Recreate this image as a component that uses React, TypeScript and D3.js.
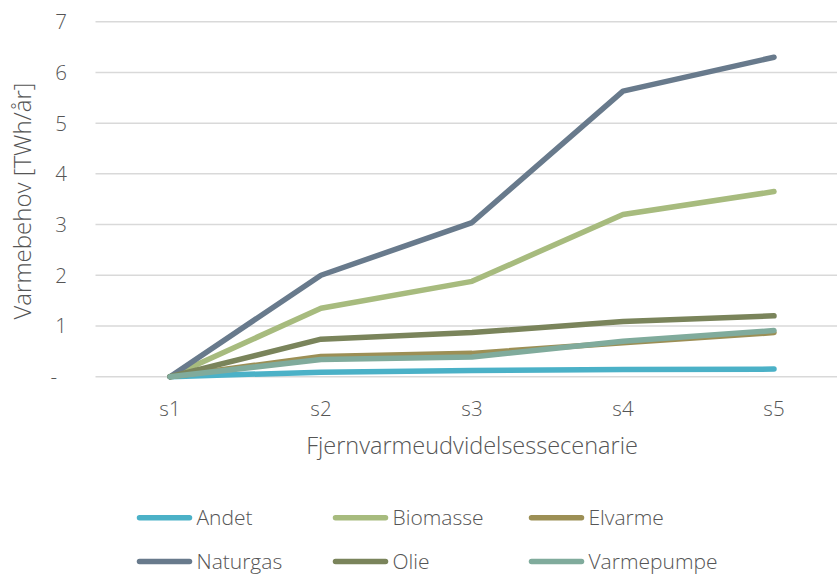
import React from "react";
import * as d3 from "d3";

const categories = ["s1", "s2", "s3", "s4", "s5"];
const seriesNames = ["Andet", "Biomasse", "Elvarme", "Naturgas", "Olie", "Varmepumpe"];
const andet = [0, 0.09, 0.12, 0.14, 0.15];
const biomasse = [0, 1.35, 1.88, 3.2, 3.65];
const elvarme = [0, 0.4, 0.46, 0.67, 0.87];
const naturgas = [0, 2.0, 3.04, 5.63, 6.3];
const olie = [0, 0.74, 0.87, 1.09, 1.2];
const varmepumpe = [0, 0.34, 0.39, 0.7, 0.91];
const yTicks = [0, 1, 2, 3, 4, 5, 6, 7];
const colors = ["#4bb1c7", "#a7bb7e", "#9c8f55", "#687a8c", "#7a845b", "#80ab9c"];

const W = 837;
const H = 574;
const FONT = "'Open Sans', Lato, sans-serif";
const TXT = "#555555";
const WEIGHT = 300;

export default function App() {
  const values = [andet, biomasse, elvarme, naturgas, olie, varmepumpe];
  const x = d3.scalePoint<string>().domain(categories).range([170, 774]);
  const y = d3.scaleLinear().domain([0, 7]).range([376.7, 21.7]);
  const line = d3
    .line<number>()
    .x((_, i) => x(categories[i]) as number)
    .y((d) => y(d));
  const legendCols = [137, 333, 529];
  const legendRows = [517.7, 561.5];
  return (
    <svg
      width={W}
      height={H}
      style={{ position: "absolute", left: 0, top: 0, background: "#fff" }}
      fontFamily={FONT}
      fontWeight={WEIGHT}
    >
      {yTicks.map((t) => (
        <line
          key={t}
          x1={95.5}
          x2={850}
          y1={y(t)}
          y2={y(t)}
          stroke="#d9d9d9"
          strokeWidth={1.5}
        />
      ))}
      {yTicks.map((t) => (
        <text
          key={"l" + t}
          x={t === 0 ? 57 : 67}
          y={y(t)}
          dy="0.36em"
          textAnchor="end"
          fontSize={20.5}
          fill={TXT}
        >
          {t === 0 ? "-" : String(t)}
        </text>
      ))}
      {categories.map((c) => (
        <text
          key={c}
          x={x(c)}
          y={416}
          textAnchor="middle"
          fontSize={20.5}
          fill={TXT}
        >
          {c}
        </text>
      ))}
      <text
        transform={`translate(31,201) rotate(-90)`}
        textAnchor="middle"
        fontSize={24}
        fill={TXT}
      >
        Varmebehov [TWh/år]
      </text>
      <text x={472} y={454} textAnchor="middle" fontSize={23.5} fill={TXT}>
        Fjernvarmeudvidelsessecenarie
      </text>
      {values.map((v, i) => (
        <path
          key={seriesNames[i]}
          d={line(v) as string}
          fill="none"
          stroke={colors[i]}
          strokeWidth={5.5}
          strokeLinecap="round"
          strokeLinejoin="round"
        />
      ))}
      {seriesNames.map((n, i) => {
        const lx = legendCols[i % 3];
        const ly = legendRows[Math.floor(i / 3)];
        return (
          <g key={"lg" + n}>
            <line
              x1={lx + 2.5}
              x2={lx + 52.5}
              y1={ly}
              y2={ly}
              stroke={colors[i]}
              strokeWidth={5.5}
              strokeLinecap="round"
            />
            <text x={lx + 59.5} y={ly} dy="0.36em" fontSize={21} fill={TXT}>
              {n}
            </text>
          </g>
        );
      })}
    </svg>
  );
}
